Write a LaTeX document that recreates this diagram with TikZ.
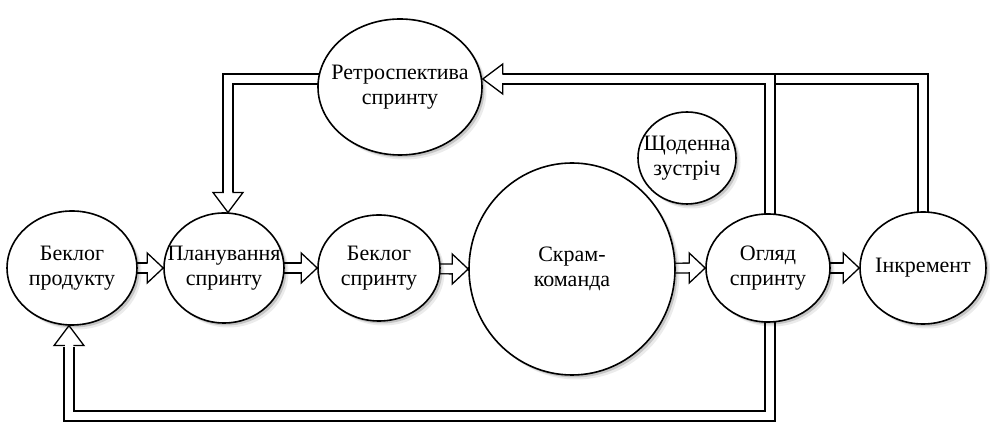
\documentclass[tikz,border=0pt]{standalone}
\usepackage{fontspec}
\setmainfont{Liberation Serif}
\usetikzlibrary{shapes.geometric,shadows,calc}
\pgfdeclarelayer{back}
\pgfdeclarelayer{bg}
\pgfsetlayers{back,bg,main}
\tikzset{
  el/.style={ellipse, draw=black, line width=1.6pt, fill=white, inner sep=0pt,
    drop shadow={shadow xshift=2.5pt, shadow yshift=-2.5pt, fill=black, opacity=.16},
    drop shadow={shadow xshift=4.5pt, shadow yshift=-4.5pt, fill=black, opacity=.08}},
  txt/.style={align=center, font=\rmfamily\fontsize{22}{25.5}\selectfont, inner sep=0pt},
  shaft/.style={draw=black, line width=1.3pt, double=white, double distance=8.5pt, line join=miter},
  headline/.style={draw=black, line width=1.3pt, line join=miter, fill=white},
  headS/.pic={\draw[headline] (-16,4.25) -- (-16,15) -- (0,0) -- (-16,-15) -- (-16,-4.25);},
  headL/.pic={\draw[headline] (-20,4.25) -- (-20,15) -- (0,0) -- (-20,-15) -- (-20,-4.25);},
}
\begin{document}
\begin{tikzpicture}[x=1pt,y=1pt]
\begin{pgfonlayer}{back}
\useasboundingbox[fill=white] (0,0) rectangle (990,422);
\end{pgfonlayer}
% nodes
\node[el, minimum width=130pt, minimum height=114pt] (bp) at (72,154) {};
\node[el, minimum width=120pt, minimum height=110pt] (pl) at (224,154) {};
\node[el, minimum width=122pt, minimum height=106pt] (bs) at (379,154) {};
\node[el, minimum width=206pt, minimum height=212pt] (sk) at (572,153) {};
\node[el, minimum width=124pt, minimum height=108pt] (og) at (768,154) {};
\node[el, minimum width=126pt, minimum height=112pt] (in) at (923,154) {};
\node[el, minimum width=164pt, minimum height=136pt] (re) at (400,335) {};
\node[el, minimum width=98pt, minimum height=92pt] (sz) at (687,264) {};
% texts
\node[txt] (tbp) at (bp) {Беклог\\продукту};
\node[txt] (tpl) at (pl) {Планування\\спринту};
\node[txt] (tbs) at (bs) {Беклог\\спринту};
\node[txt] (tsk) at (sk) {Скрам-\\команда};
\node[txt] (tog) at (og) {Огляд\\спринту};
\node[txt] (tin) at (in) {Інкремент};
\node[txt] (tre) at (re) {Ретроспектива\\спринту};
\node[txt] (tsz) at (sz) {Щоденна\\зустріч};
\coordinate (topy) at (0,343);
\coordinate (boty) at (0,6);
\coordinate (plin) at ($(pl.north)+(4,-0.3)$);
\coordinate (bpin) at ($(bp.south)+(-3,0.2)$);
\coordinate (ogx) at ($(og.center)+(2,0)$);
\begin{pgfonlayer}{bg}
% horizontal flow
\draw[shaft] (bp.center) -- ($(pl.west)+(-16,0)$);
\pic at (pl.west) {headS};
\draw[shaft] (pl.center) -- ($(bs.west)+(-16,0)$);
\pic at (bs.west) {headS};
\draw[shaft] (bs.center) -- ($(sk.west)+(-16,0)$);
\pic at (sk.west) {headS};
\draw[shaft] (sk.center) -- ($(og.west)+(-16,0)$);
\pic at (og.west) {headS};
\draw[shaft] (og.center) -- ($(in.west)+(-16,0)$);
\pic at (in.west) {headS};
% retrospective -> planning
\draw[shaft] (re.center |- topy) -| ($(plin)+(0,20)$);
\pic[rotate=-90] at (plin) {headL};
% increment -> review channel
\draw[shaft] (in.center) |- (ogx |- topy);
% review -> retrospective
\draw[shaft] (ogx) |- ($(re.east |- topy)+(20,0)$);
\pic[rotate=180] at (re.east |- topy) {headL};
% review -> product backlog
\draw[shaft] (ogx) |- (bpin |- boty) -- ($(bpin)+(0,-21)$);
\pic[rotate=90] at (bpin) {headL};
\end{pgfonlayer}
\end{tikzpicture}
\end{document}
